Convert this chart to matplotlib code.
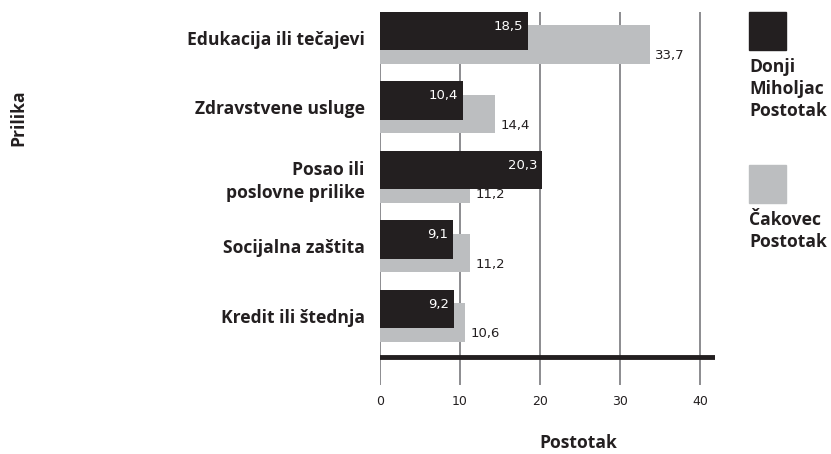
import matplotlib
matplotlib.use("Agg")
import matplotlib.pyplot as plt

categories = ["Edukacija ili tečajevi", "Zdravstvene usluge", "Posao ili\nposlovne prilike",
              "Socijalna zaštita", "Kredit ili štednja"]
donji_miholjac = [18.5, 10.4, 20.3, 9.1, 9.2]
cakovec = [33.7, 14.4, 11.2, 11.2, 10.6]
series_names = ["Donji\nMiholjac\nPostotak", "Čakovec\nPostotak"]
xticks = [0, 10, 20, 30, 40]

BLACK = "#231f20"
GRAY = "#bcbec0"
GRID = "#6d6e71"
TXT = "#231f20"
BOLD = "Open Sans"
FS = 12.6

fig = plt.figure(figsize=(8.31, 4.54), dpi=100)
ax = fig.add_axes([380/831, 1-385/454, (715-380)/831, (385-12)/454])

ypos = list(range(len(categories)))
off = 0.097
h = 0.55
ax.barh([y + off for y in ypos], cakovec, height=h, color=GRAY, zorder=2)
ax.barh([y - off for y in ypos], donji_miholjac, height=h, color=BLACK, zorder=3)

for y, v in zip(ypos, donji_miholjac):
    ax.text(v - 0.6, y - off - 0.07, f"{v:.1f}".replace(".", ","), color="white",
            ha="right", va="center", fontsize=9.5, family="DejaVu Sans", zorder=6)
for y, v in zip(ypos, cakovec):
    ax.text(v + 0.7, y + off + 0.16, f"{v:.1f}".replace(".", ","), color=TXT,
            ha="left", va="center", fontsize=9.5, family="DejaVu Sans", zorder=6)

ax.set_xlim(0, 41.875)
ax.set_ylim(4.996, -0.37)
ax.axhline(4.59, color=BLACK, lw=3.5, zorder=5)
for x in xticks:
    ax.axvline(x, color=GRID, lw=1.1, zorder=1)

for s in ax.spines.values():
    s.set_visible(False)
ax.set_xticks(xticks)
ax.set_xticklabels([str(t) for t in xticks], fontsize=9, family="DejaVu Sans", color=TXT)
ax.tick_params(axis="x", length=0, pad=7)
ax.set_yticks(ypos)
ax.set_yticklabels(categories, fontsize=FS, fontweight="bold", family=BOLD, color=TXT,
                   linespacing=1.4)
ax.tick_params(axis="y", length=0, pad=11)

fig.text(578/831, 1-443/454, "Postotak", ha="center", va="center", fontsize=FS,
         fontweight="bold", family=BOLD, color=TXT)
fig.text(18/831, 1-118/454, "Prilika", ha="center", va="center", rotation=90,
         fontsize=FS, fontweight="bold", family=BOLD, color=TXT)

# legend
lx = 749/831
sw = 37/831
sh = 38/454
fig.patches.append(plt.Rectangle((lx, 1-50/454), sw, sh, transform=fig.transFigure,
                                 color=BLACK, figure=fig))
fig.text(lx, 1-58/454, series_names[0], ha="left", va="top", fontsize=FS,
         fontweight="bold", family=BOLD, color=TXT, linespacing=1.3)
fig.patches.append(plt.Rectangle((lx, 1-203/454), sw, sh, transform=fig.transFigure,
                                 color=GRAY, figure=fig))
fig.text(lx, 1-211/454, series_names[1], ha="left", va="top", fontsize=FS,
         fontweight="bold", family=BOLD, color=TXT, linespacing=1.3)

fig.savefig("out.png", dpi=100, facecolor="white")
